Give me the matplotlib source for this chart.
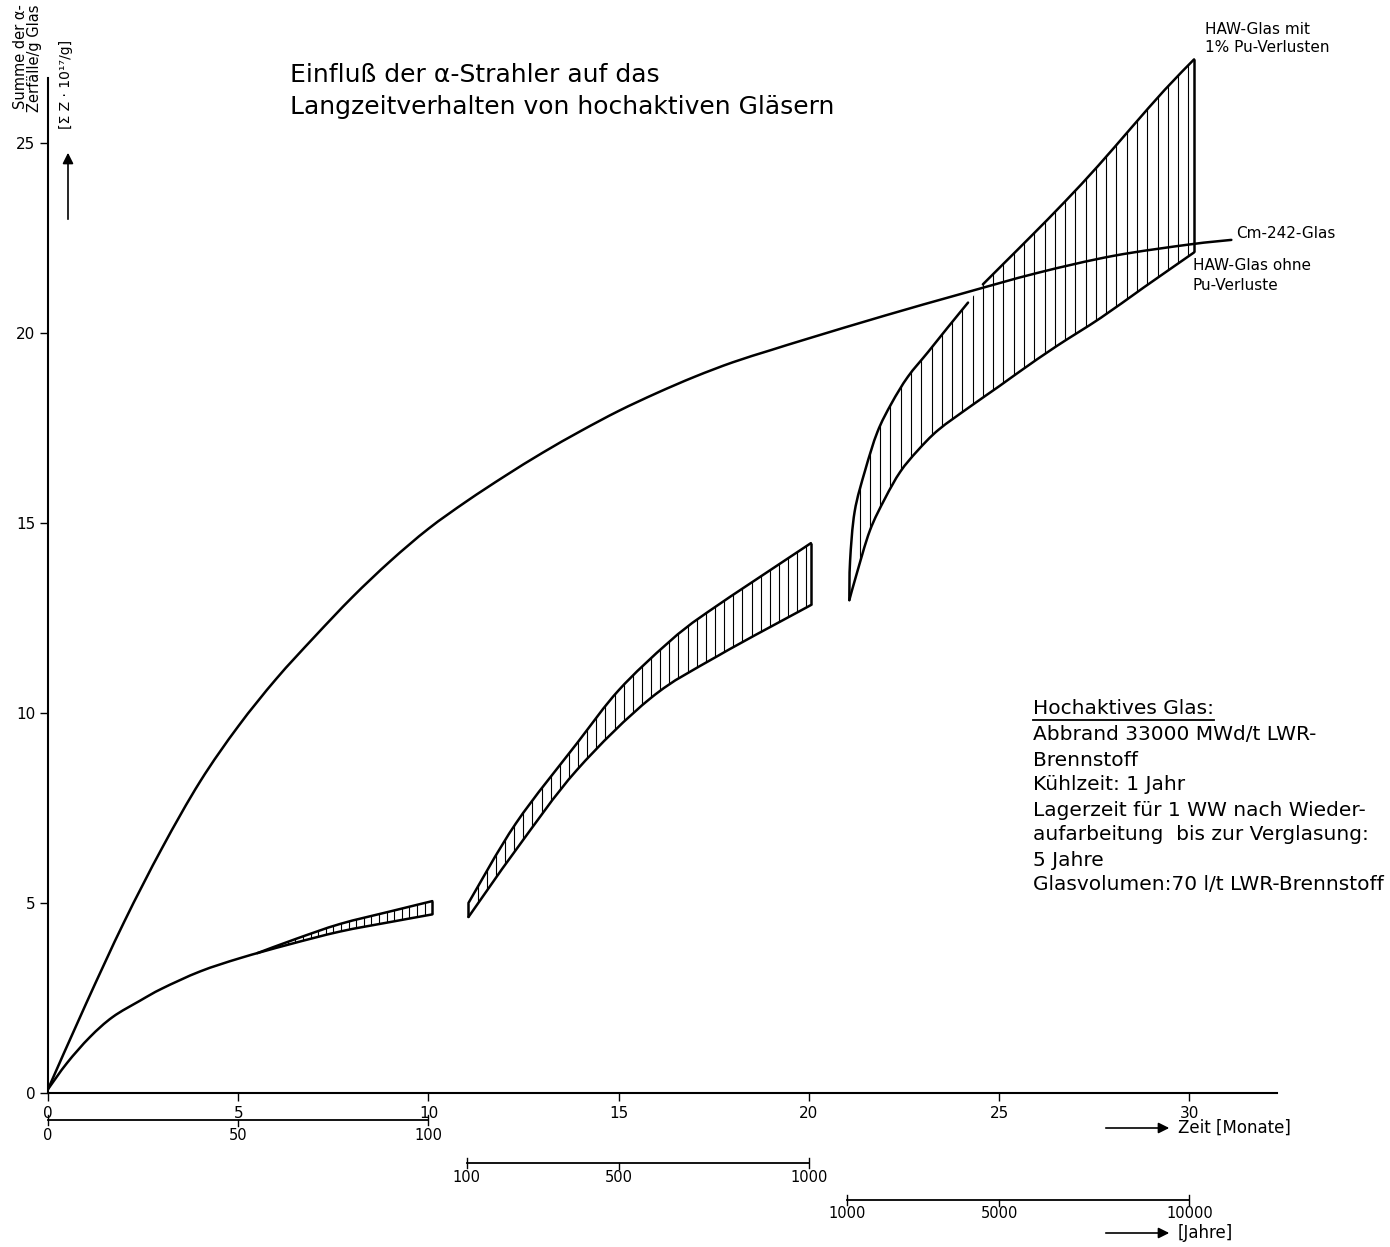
import numpy as np
import matplotlib
matplotlib.use("Agg")
import matplotlib.pyplot as plt
from matplotlib.transforms import blended_transform_factory
from matplotlib.lines import Line2D
from matplotlib.path import Path
from matplotlib.patches import PathPatch, FancyArrowPatch

plt.rcParams['font.family'] = ['DejaVu Sans']

# ---------------- data ----------------
# Cm-242 glass curve (months, sum of decays 1e17/g)
cm_x = [0, 1, 2, 3, 4, 5, 6, 7, 8, 9, 10, 11, 12, 13, 14, 15, 16, 17, 18, 19,
        20, 22, 24, 26, 28, 30, 31.1]
cm_y = [0.1, 2.35, 4.5, 6.45, 8.2, 9.65, 10.9, 12.0, 13.05, 14.0, 14.85, 15.57,
        16.23, 16.85, 17.42, 17.95, 18.42, 18.85, 19.23, 19.55, 19.86, 20.46,
        21.03, 21.58, 22.03, 22.33, 22.45]

# HAW glass, segment 1 (0..100 years)
low1_x = [0, 0.5, 1.1, 1.7, 2.42, 3, 4, 5.05, 6.3, 7.68, 9, 10.1]
low1_y = [0.1, 0.79, 1.47, 2.0, 2.43, 2.75, 3.2, 3.55, 3.9, 4.25, 4.5, 4.7]
up1_x = [5.5, 6.5, 7.68, 9, 10.1]
up1_y = [3.68, 4.05, 4.45, 4.78, 5.05]

# segment 2 (100..1000 years)
low2_x = [11.05, 12.3, 13.9, 15.85, 17.6, 20.05]
low2_y = [4.63, 6.4, 8.5, 10.4, 11.5, 12.84]
up2_x = [11.05, 12.3, 13.9, 15.0, 16.3, 17.33, 20.05]
up2_y = [5.0, 7.1, 9.2, 10.6, 11.85, 12.65, 14.47]

# segment 3 (1000..10000 years)
low3_x = [21.06, 21.25, 21.6, 22.0, 22.4, 22.85, 23.4, 24.23, 25.0, 25.6,
          26.5, 27.67, 28.8, 30.12]
low3_y = [12.97, 13.65, 14.8, 15.65, 16.35, 16.9, 17.45, 18.06, 18.6, 19.03,
          19.65, 20.4, 21.2, 22.12]
up3a_x = [21.06, 21.08, 21.2, 21.48, 21.8, 22.17, 22.6, 23.13, 23.65, 24.18]
up3a_y = [12.97, 14.0, 15.3, 16.4, 17.4, 18.15, 18.85, 19.5, 20.15, 20.8]
up3b_x = [24.57, 25.14, 25.84, 26.72, 27.6, 28.47, 29.35, 30.12]
up3b_y = [21.28, 21.85, 22.55, 23.45, 24.4, 25.4, 26.4, 27.2]

x_ticks = [0, 5, 10, 15, 20, 25, 30]
y_ticks = [0, 5, 10, 15, 20, 25]

# year scales: (year labels, month at first label, month at last label)
year_scales = [([0, 50, 100], 0, 10),
               ([100, 500, 1000], 11, 20),
               ([1000, 5000, 10000], 21, 30)]

title_lines = ["Einfluß der α-Strahler auf das",
               "Langzeitverhalten von hochaktiven Gläsern"]
info_head = "Hochaktives Glas:"
info_lines = ["Abbrand 33000 MWd/t LWR-",
              "Brennstoff",
              "Kühlzeit: 1 Jahr",
              "Lagerzeit für 1 WW nach Wieder-",
              "aufarbeitung  bis zur Verglasung:",
              "5 Jahre",
              "Glasvolumen:70 l/t LWR-Brennstoff"]

# ---------------- figure ----------------
W, H = 1390, 1247
fig = plt.figure(figsize=(W / 100, H / 100), dpi=100)
fig.patch.set_facecolor('white')


def fx(px):
    return px / W


def fy(py):
    return 1 - py / H


Y_TOP = 27.6
ax = fig.add_axes([fx(48), fy(1093), (1277 - 48) / W, (Y_TOP * 38.0) / H])
ax.set_xlim(0, 32.3)
ax.set_ylim(0, Y_TOP)
for s in ['top', 'right']:
    ax.spines[s].set_visible(False)
for s in ['left', 'bottom']:
    ax.spines[s].set_linewidth(1.5)
ax.spines['left'].set_bounds(0, 26.7)
ax.set_xticks(x_ticks)
ax.set_yticks(y_ticks)
ax.tick_params(axis='both', direction='out', length=6, width=1.0,
               labelsize=11, pad=3)

k = 'black'
lw = 1.8


def bezier(xs, ys):
    """Verts/codes of a smooth cubic path through the given points."""
    P = np.column_stack([xs, ys]).astype(float)
    n = len(P)
    verts = [P[0]]
    codes = [Path.MOVETO]
    for i in range(n - 1):
        p0 = P[i - 1] if i > 0 else P[i]
        p1, p2 = P[i], P[i + 1]
        p3 = P[i + 2] if i + 2 < n else P[i + 1]
        verts += [p1 + (p2 - p0) / 6, p2 - (p3 - p1) / 6, p2]
        codes += [Path.CURVE4] * 3
    return verts, codes


def draw_curve(xs, ys):
    v, c = bezier(xs, ys)
    ax.add_patch(PathPatch(Path(v, c), facecolor='none', edgecolor=k, lw=lw,
                           capstyle='round', joinstyle='round'))


def region(lower, uppers):
    """Closed path: lower forward, then upper pieces backwards."""
    v, c = bezier(*lower)
    verts, codes = list(v), list(c)
    for ux, uy in reversed(uppers):
        uv, uc = bezier(ux[::-1], uy[::-1])
        verts += list(uv)
        codes += [Path.LINETO] + list(uc[1:])
    verts.append(verts[0])
    codes.append(Path.CLOSEPOLY)
    return Path(verts, codes)


def hatch(path, x0, x1, step):
    clip = PathPatch(path, transform=ax.transData, facecolor='none',
                     edgecolor='none')
    ax.add_patch(clip)
    xs = np.arange(x0 + step, x1, step)
    lines = ax.vlines(xs, 0, Y_TOP, color=k, lw=0.8)
    lines.set_clip_path(clip)


# Cm-242 curve
draw_curve(cm_x, cm_y)

# segment 1
draw_curve(low1_x, low1_y)
draw_curve(up1_x, up1_y)
ax.vlines(low1_x[-1], low1_y[-1], up1_y[-1], color=k, lw=lw)
hatch(region((low1_x, low1_y), [(up1_x, up1_y)]), up1_x[0], low1_x[-1], 0.2)

# segment 2
draw_curve(low2_x, low2_y)
draw_curve(up2_x, up2_y)
ax.vlines(low2_x[0], low2_y[0], up2_y[0], color=k, lw=lw)
ax.vlines(low2_x[-1], low2_y[-1], up2_y[-1], color=k, lw=lw)
hatch(region((low2_x, low2_y), [(up2_x, up2_y)]), low2_x[0], low2_x[-1], 0.24)

# segment 3
draw_curve(low3_x, low3_y)
draw_curve(up3a_x, up3a_y)
draw_curve(up3b_x, up3b_y)
ax.vlines(low3_x[-1], low3_y[-1], up3b_y[-1], color=k, lw=lw)
hatch(region((low3_x, low3_y), [(up3a_x, up3a_y), (up3b_x, up3b_y)]),
      low3_x[0], low3_x[-1], 0.27)

# ---------------- year scales below ----------------
bt = blended_transform_factory(ax.transData, fig.transFigure)
line_py = [1120, 1163, 1200]
label_py = [1136, 1178, 1214]
for (yrs, m0, m1), lpy, tpy in zip(year_scales, line_py, label_py):
    y0, y1 = yrs[0], yrs[-1]
    months = [m0 + (v - y0) / (y1 - y0) * (m1 - m0) for v in yrs]
    ax.plot([months[0], months[-1]], [fy(lpy), fy(lpy)], transform=bt,
            color=k, lw=1.3, clip_on=False)
    for i, (m, v) in enumerate(zip(months, yrs)):
        if i in (0, len(yrs) - 1):
            ax.plot([m, m], [fy(lpy - 5), fy(lpy + 5)], transform=bt, color=k,
                    lw=1.0, clip_on=False)
        else:
            ax.plot([m, m], [fy(lpy), fy(lpy + 6)], transform=bt, color=k,
                    lw=1.0, clip_on=False)
        ax.text(m, fy(tpy), str(v), transform=bt, ha='center', va='center',
                fontsize=10.5)

# axis names with arrows
fig.text(fx(1178), fy(1128), "Zeit [Monate]", ha='left', va='center',
         fontsize=12)
fig.text(fx(1178), fy(1233), "[Jahre]", ha='left', va='center', fontsize=12)
for y_ in (1128, 1233):
    fig.add_artist(FancyArrowPatch(
        (fx(1103), fy(y_)), (fx(1172), fy(y_)), transform=fig.transFigure,
        arrowstyle='-|>', mutation_scale=16, lw=1.2, color=k))
fig.add_artist(FancyArrowPatch(
    (fx(68), fy(222)), (fx(68), fy(150)), transform=fig.transFigure,
    arrowstyle='-|>', mutation_scale=16, lw=1.2, color=k))

# y label
fig.text(fx(21), fy(4), "Summe der α-", rotation=90, ha='center', va='top',
         fontsize=10.5)
fig.text(fx(35), fy(4), "Zerfälle/g Glas", rotation=90, ha='center', va='top',
         fontsize=10.5)
fig.text(fx(66), fy(40), "[Σ Z · 10¹⁷/g]", rotation=90, ha='center', va='top',
         fontsize=10)

# title
fig.text(fx(290), fy(75), title_lines[0], ha='left', va='center', fontsize=18)
fig.text(fx(290), fy(107), title_lines[1], ha='left', va='center', fontsize=18)

# curve labels
fig.text(fx(1205), fy(30), "HAW-Glas mit", ha='left', va='center', fontsize=11)
fig.text(fx(1205), fy(48), "1% Pu-Verlusten", ha='left', va='center', fontsize=11)
fig.text(fx(1236), fy(233), "Cm-242-Glas", ha='left', va='center', fontsize=11)
fig.text(fx(1193), fy(266), "HAW-Glas ohne", ha='left', va='center', fontsize=11)
fig.text(fx(1193), fy(285), "Pu-Verluste", ha='left', va='center', fontsize=11)

# info block
head = fig.text(fx(1033), fy(708), info_head, ha='left', va='center',
                fontsize=14.5)
for i, line in enumerate(info_lines):
    fig.text(fx(1033), fy(735 + 25 * i), line, ha='left', va='center',
             fontsize=14.5)
fig.canvas.draw()
bb = head.get_window_extent()
fig.add_artist(Line2D([bb.x0 / W, bb.x1 / W], [fy(720), fy(720)],
                      transform=fig.transFigure, color=k, lw=1.3))

fig.savefig("out.png", dpi=100, facecolor='white')
